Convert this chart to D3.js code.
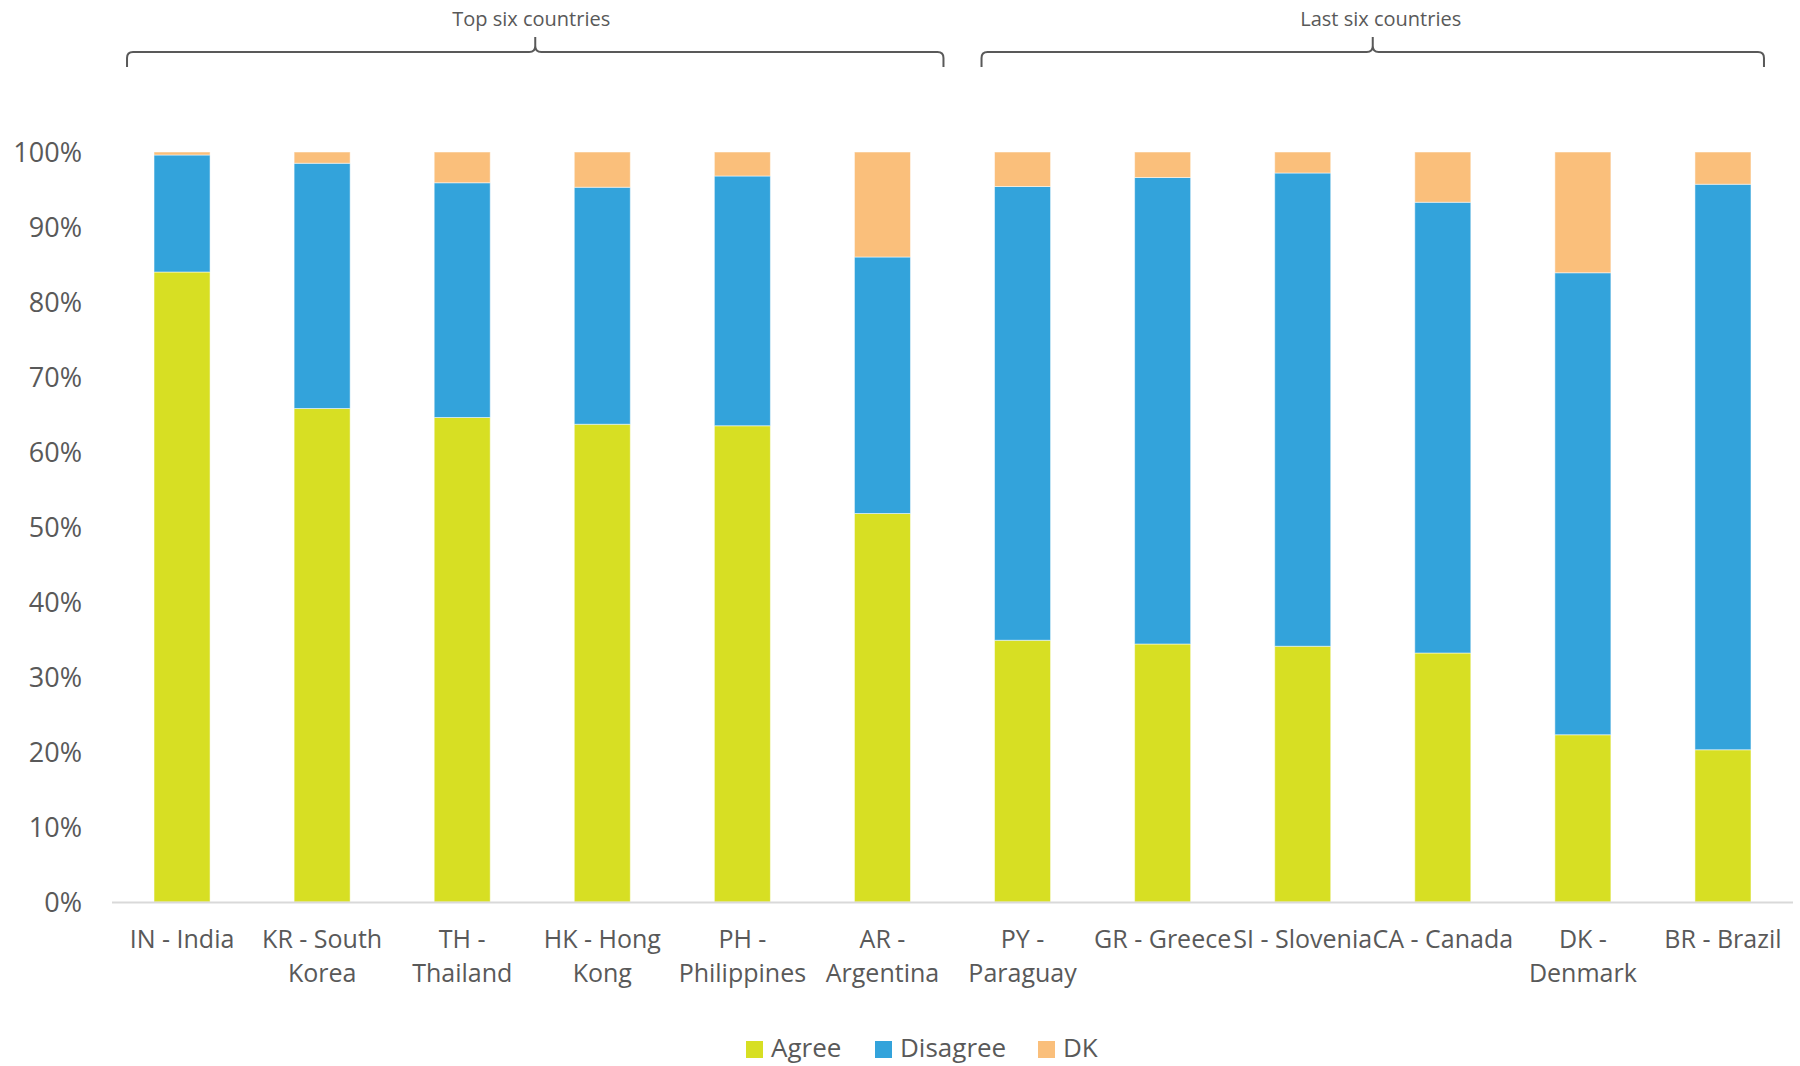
<!DOCTYPE html>
<html>
<head>
<meta charset="utf-8">
<script src="https://cdn.jsdelivr.net/npm/d3@7"></script>
<style>
  html, body { margin: 0; padding: 0; background: #ffffff; }
  svg { display: block; font-family: "Open Sans", "DejaVu Sans", sans-serif; }
</style>
</head>
<body>
<svg id="chart" width="1800" height="1066"></svg>
<script>
// Share of respondents per country (percent)
const categories = [
  "IN - India", "KR - South Korea", "TH - Thailand", "HK - Hong Kong",
  "PH - Philippines", "AR - Argentina", "PY - Paraguay", "GR - Greece",
  "SI - Slovenia", "CA - Canada", "DK - Denmark", "BR - Brazil"
];
const agree    = [84.0, 65.8, 64.6, 63.7, 63.5, 51.8, 34.9, 34.4, 34.1, 33.2, 22.3, 20.3];
const disagree = [15.6, 32.7, 31.3, 31.6, 33.3, 34.2, 60.5, 62.2, 63.1, 60.1, 61.6, 75.4];
const dk       = [ 0.4,  1.5,  4.1,  4.7,  3.2, 14.0,  4.6,  3.4,  2.8,  6.7, 16.1,  4.3];

const seriesNames = ["Agree", "Disagree", "DK"];
const yTicks = [0, 10, 20, 30, 40, 50, 60, 70, 80, 90, 100];
const groupLabels = ["Top six countries", "Last six countries"];
const groupFirst  = [0, 6];
const groupLast   = [5, 11];

const colors = { Agree: "#D7DF23", Disagree: "#33A3DB", DK: "#FABF7B" };
const textColor = "#595959";

const svg = d3.select("#chart");
const plot = { left: 112, right: 1793, top: 152, bottom: 902 };

const x = d3.scaleBand()
  .domain(categories)
  .range([plot.left, plot.right])
  .paddingInner(0.6)
  .paddingOuter(0.3);

const y = d3.scaleLinear().domain([0, 100]).range([plot.bottom, plot.top]);

// Stacked layout
const rows = categories.map((c, i) => ({ cat: c, Agree: agree[i], Disagree: disagree[i], DK: dk[i] }));
const stacked = d3.stack().keys(seriesNames)(rows);

svg.append("g")
  .selectAll("g")
  .data(stacked)
  .join("g")
  .attr("fill", d => colors[d.key])
  .selectAll("rect")
  .data(d => d)
  .join("rect")
  .attr("x", d => x(d.data.cat))
  .attr("width", x.bandwidth())
  .attr("y", d => y(d[1]))
  .attr("height", d => y(d[0]) - y(d[1]))
  .attr("stroke", "#ffffff")
  .attr("stroke-opacity", 0.5)
  .attr("stroke-width", 1);

// Y axis (labels only)
const yAxis = d3.axisLeft(y)
  .tickValues(yTicks)
  .tickFormat(d => d + "%")
  .tickSize(0)
  .tickPadding(0);
const yg = svg.append("g")
  .attr("transform", "translate(82,0)")
  .call(yAxis);
yg.select(".domain").remove();
yg.selectAll("text")
  .attr("fill", textColor)
  .attr("font-size", 27)
  .attr("font-family", "\"Open Sans\", sans-serif")
  .attr("dy", "0.36em");

// X axis baseline
svg.append("line")
  .attr("x1", plot.left).attr("x2", plot.right)
  .attr("y1", y(0) + 0.5).attr("y2", y(0) + 0.5)
  .attr("stroke", "#D9D9D9")
  .attr("stroke-width", 2);

// Category labels, word-wrapped within the band step
const xAxis = d3.axisBottom(x).tickSize(0).tickPadding(0);
const xg = svg.append("g")
  .attr("transform", `translate(0,${plot.bottom})`)
  .call(xAxis);
xg.select(".domain").remove();
xg.selectAll("text")
  .attr("fill", textColor)
  .attr("font-size", 25)
  .attr("font-family", "\"Open Sans\", sans-serif")
  .attr("y", 46)
  .attr("dy", 0)
  .each(function(d) { wrap(d3.select(this), d, 146, 34); });

function wrap(textSel, str, maxWidth, lineHeight) {
  const words = str.split(" ");
  textSel.text(null);
  const yPos = +textSel.attr("y");
  let line = [];
  let lineNo = 0;
  let tspan = textSel.append("tspan").attr("x", 0).attr("y", yPos);
  for (const w of words) {
    line.push(w);
    tspan.text(line.join(" "));
    if (tspan.node().getComputedTextLength() > maxWidth && line.length > 1) {
      line.pop();
      tspan.text(line.join(" "));
      line = [w];
      lineNo++;
      tspan = textSel.append("tspan").attr("x", 0).attr("y", yPos + lineNo * lineHeight).text(w);
    }
  }
}

// Group braces above the bars: extent relative to the outer bars of each group
const braceInsetLeft  = [27, 13];
const braceInsetRight = [33, 13];
const braceY = 52, braceEnd = 67, braceTip = 37;
groupLabels.forEach((label, i) => {
  const x0 = x(categories[groupFirst[i]]) - braceInsetLeft[i];
  const x1 = x(categories[groupLast[i]]) + x.bandwidth() + braceInsetRight[i];
  const tip = (x0 + x1) / 2;
  const r = 6;
  const p = d3.path();
  p.moveTo(x0, braceEnd);
  p.lineTo(x0, braceY + r);
  p.quadraticCurveTo(x0, braceY, x0 + r, braceY);
  p.lineTo(tip - r, braceY);
  p.quadraticCurveTo(tip, braceY, tip, braceY - r);
  p.lineTo(tip, braceTip);
  p.moveTo(tip, braceY - r);
  p.quadraticCurveTo(tip, braceY, tip + r, braceY);
  p.lineTo(x1 - r, braceY);
  p.quadraticCurveTo(x1, braceY, x1, braceY + r);
  p.lineTo(x1, braceEnd);
  svg.append("path")
    .attr("d", p.toString())
    .attr("fill", "none")
    .attr("stroke", "#595959")
    .attr("stroke-width", 2);
  svg.append("text")
    .attr("x", tip + (i === 0 ? -4 : 8))
    .attr("y", 19)
    .attr("dy", "0.36em")
    .attr("text-anchor", "middle")
    .attr("fill", textColor)
    .attr("font-size", 20)
    .text(label);
});

// Legend
const legendItems = [
  { key: "Agree", x: 746 },
  { key: "Disagree", x: 875 },
  { key: "DK", x: 1038 }
];
const legend = svg.append("g");
legendItems.forEach(item => {
  legend.append("rect")
    .attr("x", item.x).attr("y", 1041)
    .attr("width", 17).attr("height", 17)
    .attr("fill", colors[item.key]);
  legend.append("text")
    .attr("x", item.x + 25)
    .attr("y", 1048)
    .attr("dy", "0.36em")
    .attr("fill", textColor)
    .attr("font-size", 26)
    .text(item.key);
});
</script>
</body>
</html>
